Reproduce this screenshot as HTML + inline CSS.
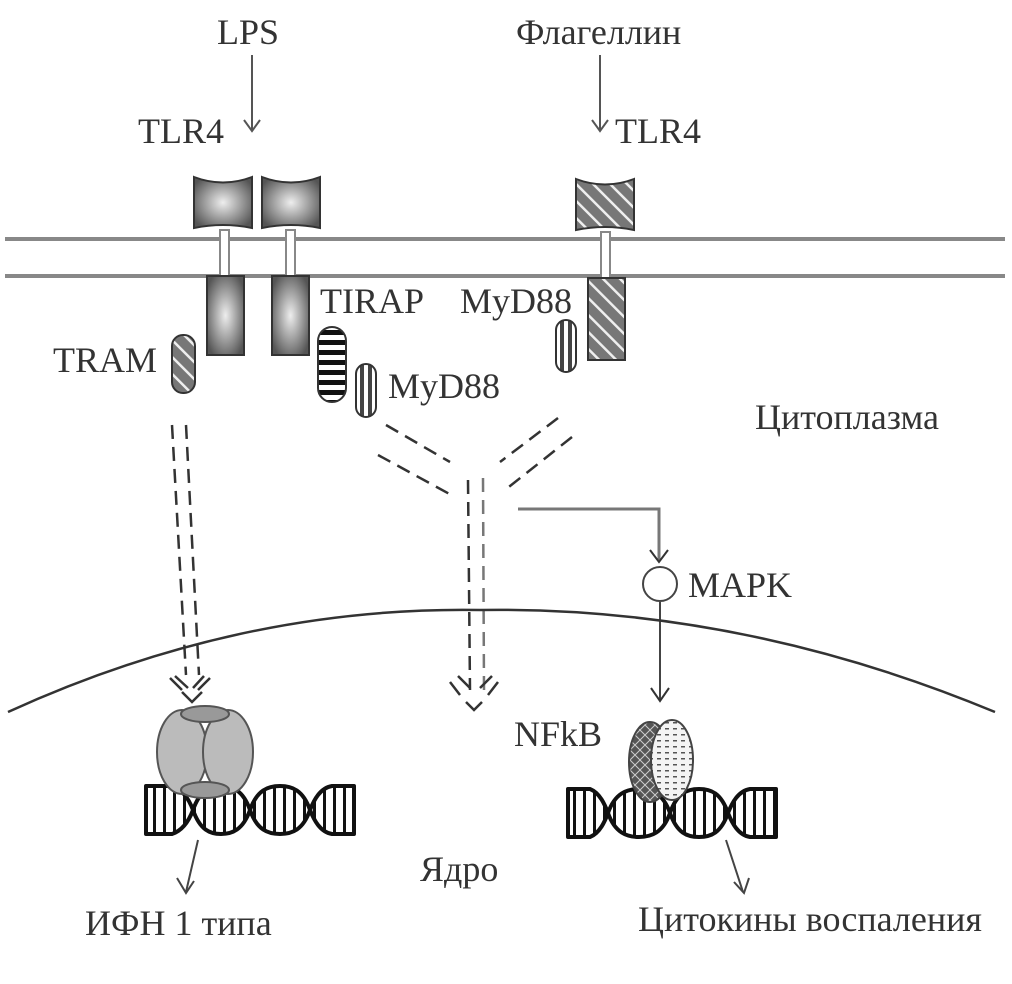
<!DOCTYPE html>
<html><head><meta charset="utf-8"><style>
html,body{margin:0;padding:0;background:#fff;width:1012px;height:984px;overflow:hidden}
text{font-family:"Liberation Serif",serif;fill:#333;font-size:36px}
</style></head><body>
<svg width="1012" height="984" viewBox="0 0 1012 984" xmlns="http://www.w3.org/2000/svg">
<defs>
<radialGradient id="g" cx="0.5" cy="0.5" r="0.6"><stop offset="0" stop-color="#eee"/><stop offset="1" stop-color="#555"/></radialGradient>
<pattern id="diag" width="12" height="12" patternUnits="userSpaceOnUse" patternTransform="rotate(-45)"><rect width="12" height="12" fill="#777"/><rect width="2.5" height="12" fill="#eee"/></pattern>
<pattern id="hs" width="10" height="10" patternUnits="userSpaceOnUse"><rect width="10" height="10" fill="#fff"/><rect width="10" height="5" fill="#111"/></pattern>
<pattern id="vs" width="8" height="10" patternUnits="userSpaceOnUse"><rect width="8" height="10" fill="#fff"/><rect width="4" height="10" fill="#444"/></pattern>
<pattern id="xh" width="10" height="10" patternUnits="userSpaceOnUse"><rect width="10" height="10" fill="#555"/><path d="M0 0L10 10M10 0L0 10" stroke="#ccc" stroke-width="1"/></pattern>
<pattern id="dots" width="8" height="6" patternUnits="userSpaceOnUse"><rect width="8" height="6" fill="#f4f4f4"/><rect x="1" y="2" width="4" height="1.5" fill="#555"/></pattern>
<pattern id="dna" width="10" height="60" patternUnits="userSpaceOnUse"><rect width="10" height="60" fill="#fff"/><rect x="3" width="3" height="60" fill="#111"/></pattern>
</defs>
<line x1="5" y1="239" x2="1005" y2="239" stroke="#888" stroke-width="4"/>
<line x1="5" y1="276" x2="1005" y2="276" stroke="#888" stroke-width="4"/>
<g stroke="#555" stroke-width="2" fill="none">
<line x1="252" y1="55" x2="252" y2="130"/><path d="M244 120L252 131L260 120"/>
<line x1="600" y1="55" x2="600" y2="130"/><path d="M592 120L600 131L608 120"/>
</g>
<g stroke="#333" stroke-width="2">
<path d="M194 177Q223 188 252 177L252 228Q223 222 194 228Z" fill="url(#g)"/>
<path d="M262 177Q291 188 320 177L320 228Q291 222 262 228Z" fill="url(#g)"/>
<path d="M576 179Q605 190 634 179L634 230Q605 224 576 230Z" fill="url(#diag)"/>
</g>
<g stroke="#888" stroke-width="2" fill="#fff">
<rect x="220" y="230" width="9" height="46"/><rect x="286" y="230" width="9" height="46"/><rect x="601" y="232" width="9" height="46"/>
</g>
<g stroke="#333" stroke-width="2">
<rect x="207" y="276" width="37" height="79" fill="url(#g)"/>
<rect x="272" y="276" width="37" height="79" fill="url(#g)"/>
<rect x="588" y="278" width="37" height="82" fill="url(#diag)"/>
<rect x="172" y="335" width="23" height="58" rx="11" fill="url(#diag)"/>
<rect x="318" y="327" width="28" height="75" rx="14" fill="url(#hs)"/>
<rect x="356" y="364" width="20" height="53" rx="10" fill="url(#vs)"/>
<rect x="556" y="320" width="20" height="52" rx="10" fill="url(#vs)"/>
</g>
<g stroke="#333" stroke-width="2.5" fill="none" stroke-dasharray="14 8">
<line x1="172" y1="425" x2="186" y2="675"/><line x1="186" y1="425" x2="199" y2="675"/>
<line x1="378" y1="455" x2="455" y2="497"/><line x1="386" y1="425" x2="450" y2="462"/>
<line x1="572" y1="437" x2="505" y2="490"/><line x1="558" y1="418" x2="500" y2="462"/>
<line x1="468" y1="480" x2="470" y2="690"/><line x1="483" y1="478" x2="484" y2="690" stroke="#777"/>
</g>
<g stroke="#333" stroke-width="2.5" fill="none">
<path d="M170 678L182 690M175 676L188 688M204 676L193 688M210 678L198 690M182 692L192 702L202 692"/>
<path d="M450 682L460 695M458 676L470 688M492 676L480 688M498 682L488 695M466 702L474 710L482 702"/>
</g>
<path d="M518 509H659V560" stroke="#777" stroke-width="3" fill="none"/>
<path d="M650 550L659 562L668 550" stroke="#333" stroke-width="2" fill="none"/>
<circle cx="660" cy="584" r="17" fill="#fff" stroke="#444" stroke-width="2"/>
<line x1="660" y1="602" x2="660" y2="700" stroke="#444" stroke-width="2"/>
<path d="M651 688L660 701L669 688" stroke="#333" stroke-width="2" fill="none"/>
<path d="M8 712Q240 606 480 610Q740 606 995 712" stroke="#333" stroke-width="2.5" fill="none"/>
<!-- DNA left: 145, 193, 250, 310, 355 ; y 786-834 -->
<g stroke="#111" stroke-width="4" fill="url(#dna)" stroke-linejoin="round">
<path d="M146 786H172C184 790 190 802 193 810C190 818 184 830 172 834H146Z"/>
<path d="M193 810C200 790 210 786 221 786C232 786 243 790 250 810C243 830 232 834 221 834C210 834 200 830 193 810Z"/>
<path d="M250 810C257 790 268 786 280 786C292 786 303 790 310 810C303 830 292 834 280 834C268 834 257 830 250 810Z"/>
<path d="M310 810C314 800 320 788 332 786H354V834H332C320 832 314 820 310 810Z"/>
</g>
<!-- DNA right: 567, 608, 670, 728, 777 ; y 789-837 -->
<g stroke="#111" stroke-width="4" fill="url(#dna)" stroke-linejoin="round">
<path d="M568 789H590C600 793 605 805 608 813C605 821 600 833 590 837H568Z"/>
<path d="M608 813C615 793 627 789 639 789C651 789 663 793 670 813C663 833 651 837 639 837C627 837 615 833 608 813Z"/>
<path d="M670 813C677 793 687 789 699 789C711 789 721 793 728 813C721 833 711 837 699 837C687 837 677 833 670 813Z"/>
<path d="M728 813C732 803 738 791 750 789H776V837H750C738 835 732 823 728 813Z"/>
</g>
<g stroke="#555" stroke-width="2" fill="#bbb">
<ellipse cx="182" cy="752" rx="25" ry="42"/><ellipse cx="228" cy="752" rx="25" ry="42"/>
<ellipse cx="205" cy="714" rx="24" ry="8" fill="#999"/><ellipse cx="205" cy="790" rx="24" ry="8" fill="#999"/>
</g>
<ellipse cx="650" cy="762" rx="21" ry="40" fill="url(#xh)" stroke="#444" stroke-width="2"/>
<ellipse cx="672" cy="760" rx="21" ry="40" fill="url(#dots)" stroke="#444" stroke-width="2"/>
<g stroke="#444" stroke-width="2" fill="none">
<line x1="198" y1="840" x2="186" y2="892"/><path d="M177 878L186 893L194 881"/>
<line x1="726" y1="840" x2="743" y2="892"/><path d="M734 882L744 893L749 878"/>
</g>
<text x="217" y="44">LPS</text>
<text x="516" y="44">Флагеллин</text>
<text x="138" y="143">TLR4</text>
<text x="615" y="143">TLR4</text>
<text x="320" y="313">TIRAP</text>
<text x="460" y="313">MyD88</text>
<text x="53" y="372">TRAM</text>
<text x="388" y="398">MyD88</text>
<text x="755" y="429">Цитоплазма</text>
<text x="688" y="597">MAPK</text>
<text x="514" y="746">NFkB</text>
<text x="420" y="881">Ядро</text>
<text x="85" y="935">ИФН 1 типа</text>
<text x="638" y="931">Цитокины воспаления</text>
</svg>
</body></html>
